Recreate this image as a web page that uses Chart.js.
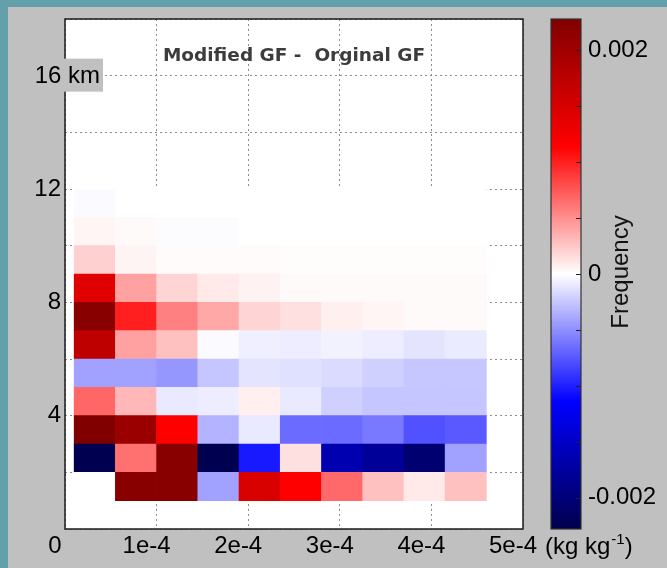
<!DOCTYPE html>
<html>
<head>
<meta charset="utf-8">
<style>
html,body{margin:0;padding:0;background:#c0c0c0;}
#wrap{width:667px;height:568px;position:relative;overflow:hidden;}
canvas{display:block;}
</style>
<script src="https://cdn.jsdelivr.net/npm/chart.js@4.4.1/dist/chart.umd.min.js"></script>
</head>
<body>
<div id="wrap"><canvas id="c" width="667" height="568"></canvas></div>
<script>
// ---- data ----
const titleText = 'Modified GF -  Orginal GF';
const qBinCenters = [0.325e-4, 0.775e-4, 1.225e-4, 1.675e-4, 2.125e-4, 2.575e-4, 3.025e-4, 3.475e-4, 3.925e-4, 4.375e-4];
const altitudeEdges = [1, 2, 3, 4, 5, 6, 7, 8, 9, 10, 11, 12];

const diff_01_02km = [0, 0.00220, 0.00220, -0.00042, 0.00148, 0.00114, 0.00067, 0.00028, 0.00010, 0.00028];
const diff_02_03km = [-0.00226, 0.00064, 0.00220, -0.00226, -0.00103, 0.00014, -0.00164, -0.00179, -0.00205, -0.00042];
const diff_03_04km = [0.00228, 0.00203, 0.00114, -0.00034, -0.00010, -0.00066, -0.00066, -0.00060, -0.00078, -0.00074];
const diff_04_05km = [0.00068, 0.00032, -0.00010, -0.00008, 0.00007, -0.00010, -0.00021, -0.00026, -0.00026, -0.00026];
const diff_05_06km = [-0.00042, -0.00042, -0.00047, -0.00026, -0.00012, -0.00014, -0.00016, -0.00021, -0.00025, -0.00025];
const diff_06_07km = [0.00171, 0.00042, 0.00028, -0.000018, -0.00007, -0.00008, -0.00006, -0.00008, -0.00012, -0.00009];
const diff_07_08km = [0.00220, 0.00100, 0.00057, 0.00039, 0.00019, 0.00014, 0.00007, 0.000046, 0.000023, 0.000023];
const diff_08_09km = [0.00141, 0.00042, 0.00019, 0.00010, 0.00006, 0.000023, 0.000023, 0.000023, 0.000023, 0.000023];
const diff_09_10km = [0.00021, 0.00005, 0.000018, 0.000018, 0.000018, 0.000014, 0.000014, 0.000014, 0.000014, 0.000014];
const diff_10_11km = [0.000046, 0.000023, -0.000014, -0.000014, 0, 0, 0, 0, 0, 0];
const diff_11_12km = [-0.000023, 0, 0, 0, 0, 0, 0, 0, 0, 0];

const rows = [diff_01_02km, diff_02_03km, diff_03_04km, diff_04_05km, diff_05_06km, diff_06_07km,
              diff_07_08km, diff_08_09km, diff_09_10km, diff_10_11km, diff_11_12km];

const colorLimit = 0.00228;
const xTickLabels = {0: '0', 1: '1e-4', 2: '2e-4', 3: '3e-4', 4: '4e-4', 5: '5e-4'};
const yTickLabels = {4: '4', 8: '8', 12: '12'};
const yTopLabel = '16 km';
const yTopLabelValue = 16;
const cbTickLabels = {'-4': '-0.002', '0': '0', '4': '0.002'};
const cbTitle = 'Frequency';

// ---- colormap (seismic) ----
function seismic(s) {
  s = Math.max(-1, Math.min(1, s));
  let r, g, b;
  if (s <= -0.5) { r = 0; g = 0; b = 1 - 1.4 * (-s - 0.5); }
  else if (s <= 0) { r = 1 + 2 * s; g = r; b = 1; }
  else if (s <= 0.5) { r = 1; g = 1 - 2 * s; b = g; }
  else { r = 1.5 - s; g = 0; b = 0; }
  return 'rgb(' + Math.round(r * 255) + ',' + Math.round(g * 255) + ',' + Math.round(b * 255) + ')';
}

Chart.defaults.font.family = '"Liberation Sans", Arial, sans-serif';
Chart.defaults.color = '#000';

const FONT = '"Liberation Sans", Arial, sans-serif';

const decorPlugin = {
  id: 'decor',
  beforeDraw(chart) {
    const ctx = chart.ctx, a = chart.chartArea;
    ctx.save();
    ctx.fillStyle = '#c0c0c0';
    ctx.fillRect(0, 0, chart.width, chart.height);
    ctx.fillStyle = '#64a0aa';
    ctx.fillRect(0, 0, chart.width, 7);
    ctx.fillRect(0, 0, 8, chart.height);
    ctx.fillStyle = '#ffffff';
    ctx.fillRect(a.left, a.top, a.right - a.left, a.bottom - a.top);
    ctx.restore();
  },
  afterDraw(chart) {
    const ctx = chart.ctx, a = chart.chartArea;
    const cb = chart.scales.cb;
    ctx.save();
    // plot frame
    ctx.strokeStyle = '#1a1a1a';
    ctx.lineWidth = 1.5;
    ctx.strokeRect(a.left, a.top, a.right - a.left, a.bottom - a.top);

    // colorbar
    const cbL = 551, cbR = 581;
    const yTop = cb.getPixelForValue(colorLimit), yBot = cb.getPixelForValue(-colorLimit);
    const grad = ctx.createLinearGradient(0, yBot, 0, yTop);
    [0, 0.25, 0.5, 0.75, 1].forEach(t => grad.addColorStop(t, seismic(t * 2 - 1)));
    ctx.fillStyle = grad;
    ctx.fillRect(cbL, yTop, cbR - cbL, yBot - yTop);
    ctx.strokeStyle = '#222';
    ctx.lineWidth = 1;
    cb.ticks.forEach(t => {
      const y = Math.round(cb.getPixelForValue(t.value)) + 0.5;
      ctx.beginPath(); ctx.moveTo(cbR - 5, y); ctx.lineTo(cbR, y); ctx.stroke();
    });
    ctx.strokeStyle = '#333';
    ctx.lineWidth = 1.2;
    ctx.strokeRect(cbL, yTop, cbR - cbL, yBot - yTop);

    // colorbar title
    ctx.save();
    ctx.translate(621, (yTop + yBot) / 2 - 2);
    ctx.rotate(-Math.PI / 2);
    ctx.font = '24px ' + FONT;
    ctx.fillStyle = '#111';
    ctx.textAlign = 'center';
    ctx.textBaseline = 'middle';
    ctx.fillText(cbTitle, 0, 0);
    ctx.restore();

    // panel title
    ctx.font = '600 18.5px "DejaVu Sans", sans-serif';
    ctx.fillStyle = '#3c3c3c';
    ctx.textAlign = 'center';
    ctx.textBaseline = 'middle';
    ctx.fillText(titleText, (a.left + a.right) / 2, 56);

    // top y label with box
    const y16 = chart.scales.y.getPixelForValue(yTopLabelValue);
    ctx.fillStyle = '#c0c0c0';
    ctx.fillRect(8, y16 - 17, 95, 33);
    ctx.font = '24px ' + FONT;
    ctx.fillStyle = '#000';
    ctx.textAlign = 'right';
    ctx.fillText(yTopLabel, 100, y16 + 1);

    // x units
    const xs = chart.scales.x;
    const ux = xs.getPixelForValue(5e-4) + 22;
    const uy = xs.top + 18;
    ctx.textAlign = 'left';
    ctx.font = '24px ' + FONT;
    let s1 = '(kg kg';
    ctx.fillText(s1, ux, uy);
    let w = ctx.measureText(s1).width;
    ctx.font = '15px ' + FONT;
    ctx.fillText('-1', ux + w + 1, uy - 7);
    w += ctx.measureText('-1').width + 1;
    ctx.font = '24px ' + FONT;
    ctx.fillText(')', ux + w, uy);
    ctx.restore();
  }
};

const datasets = rows.map((row, r) => ({
  data: qBinCenters.map(x => ({x: x, y: [altitudeEdges[r], altitudeEdges[r + 1]]})),
  backgroundColor: row.map(v => seismic(v / colorLimit)),
  borderWidth: 0,
  grouped: false,
  categoryPercentage: 1,
  barPercentage: 1,
  xAxisID: 'x',
  yAxisID: 'y'
}));

new Chart(document.getElementById('c'), {
  type: 'bar',
  data: {datasets: datasets},
  plugins: [decorPlugin],
  options: {
    responsive: false,
    animation: false,
    events: [],
    layout: {padding: {top: 19, left: 0, right: 0, bottom: 0}},
    plugins: {legend: {display: false}, tooltip: {enabled: false}, title: {display: false}},
    scales: {
      x: {
        type: 'linear', min: 0, max: 5e-4, z: 1, offset: false,
        afterFit: s => { s.height = 39; },
        ticks: {
          stepSize: 1e-4, autoSkip: false, maxRotation: 0, minRotation: 0,
          padding: 3, labelOffset: -10, font: {size: 24}, color: '#000',
          callback: v => { const k = Math.round(v * 1e4); return xTickLabels[k] !== undefined ? xTickLabels[k] : ''; }
        },
        grid: {color: '#8c8c8c', lineWidth: 1, drawTicks: false, offset: false},
        border: {display: false, dash: [2, 3]}
      },
      y: {
        type: 'linear', min: 0, max: 18, z: 1,
        afterFit: s => { s.width = 65; },
        ticks: {
          stepSize: 2, autoSkip: false, padding: 4, font: {size: 24}, color: '#000',
          callback: v => (yTickLabels[Math.round(v)] || '')
        },
        grid: {color: '#8c8c8c', lineWidth: 1, drawTicks: false},
        border: {display: false, dash: [2, 3]}
      },
      cb: {
        type: 'linear', position: 'right', min: -colorLimit, max: colorLimit,
        afterFit: s => { s.width = 144; },
        ticks: {
          stepSize: 0.0005, includeBounds: false, autoSkip: false, padding: 3,
          font: {size: 24}, color: '#000',
          callback: v => { const k = String(Math.round(v / 0.0005)); return cbTickLabels[k] || ''; }
        },
        grid: {display: true, drawOnChartArea: false, drawTicks: true, tickLength: 62, color: 'rgba(0,0,0,0)'},
        border: {display: false}
      }
    }
  }
});
</script>
</body>
</html>
